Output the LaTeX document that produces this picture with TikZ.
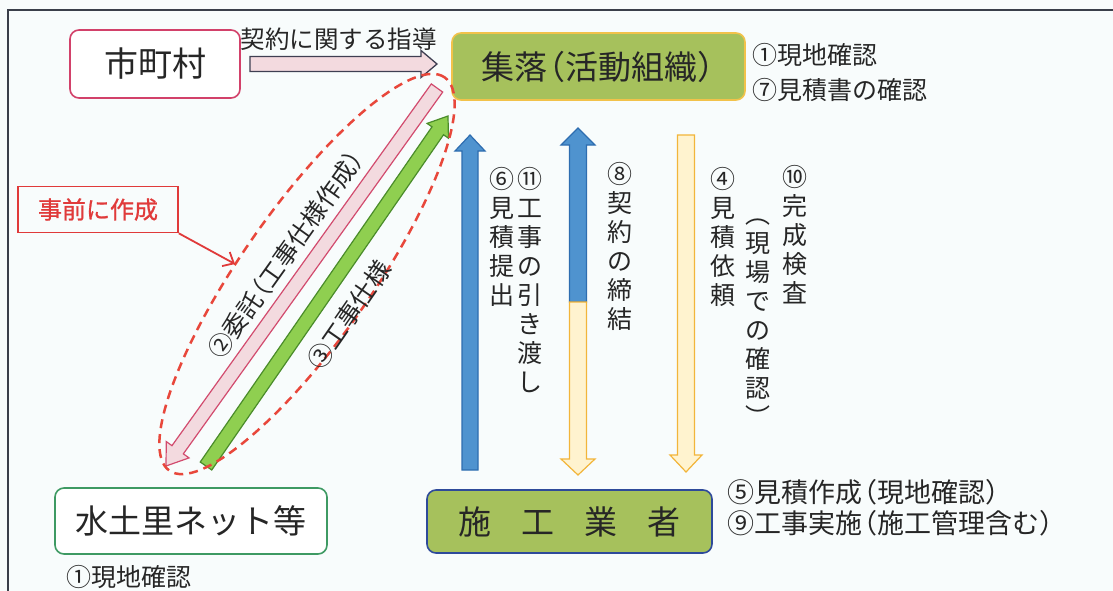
\documentclass[tikz,border=0pt]{standalone}
\usepackage{fontspec}
\setmainfont{Noto Sans CJK JP}
\newfontfamily\jpbold[FakeBold=1]{Noto Sans CJK JP}
\usetikzlibrary{calc,arrows.meta}
\definecolor{bgc}{HTML}{F8FCFC}
\definecolor{framec}{HTML}{3A3F4A}
\definecolor{txt}{HTML}{262626}
\definecolor{cityred}{HTML}{D2416A}
\definecolor{boxgreen}{HTML}{A6C15C}
\definecolor{shurakuborder}{HTML}{F2C24A}
\definecolor{sekouborder}{HTML}{2E4A9A}
\definecolor{midoriborder}{HTML}{3E9A63}
\definecolor{pinkfill}{HTML}{F3DADF}
\definecolor{pinkline}{HTML}{D24B6E}
\definecolor{hline}{HTML}{3F3F52}
\definecolor{arrgreen}{HTML}{8FCF50}
\definecolor{arrgreenline}{HTML}{4A8C2A}
\definecolor{arrblue}{HTML}{4F93CF}
\definecolor{arrblueline}{HTML}{2E6DB0}
\definecolor{arryellow}{HTML}{FFF3CF}
\definecolor{arryellowline}{HTML}{F2B53A}
\definecolor{dashred}{HTML}{E8473B}
\definecolor{notered}{HTML}{E03A3A}
\newcommand\fsz[2]{\fontsize{#1}{#2}\selectfont}
\newcommand\lpar{\kern-0.45em（}
\newcommand\rpar{）\kern-0.45em}
% block arrow: #1 style, #2 tail, #3 tip, #4 half shaft, #5 half head, #6 head length
\newcommand\blockarrow[6]{%
  \coordinate (bah) at ($(#3)!#6!(#2)$);
  \draw[#1] ($(#2)!#4!90:(#3)$) -- ($(bah)!#4!90:(#3)$) -- ($(bah)!#5!90:(#3)$) -- (#3)
    -- ($(bah)!#5!-90:(#3)$) -- ($(bah)!#4!-90:(#3)$) -- ($(#2)!#4!-90:(#3)$) -- cycle;}
\begin{document}
\begin{tikzpicture}[x=1pt,y=-1pt,
  rbox/.style={draw, rounded corners=9pt, line width=1.6pt, inner sep=0pt, text=txt},
  note/.style={anchor=west, inner sep=0pt, text=txt, font=\fsz{25}{25}},
  notebig/.style={anchor=west, inner sep=0pt, text=txt, font=\fsz{27}{27}},
  vtext/.style={anchor=north, align=center, inner sep=0pt, text=txt, font=\fsz{25}{29}},
  diag/.style={inner sep=0pt, text=txt},
  hstyle/.style={draw=hline, fill=pinkfill, line width=1.3pt},
  pstyle/.style={draw=pinkline, fill=pinkfill, line width=1.2pt},
  gstyle/.style={draw=arrgreenline, fill=arrgreen, line width=1.2pt},
  bstyle/.style={draw=arrblueline, fill=arrblue, line width=1.2pt},
  ystyle/.style={draw=arryellowline, fill=arryellow, line width=1.2pt}]
\useasboundingbox (0,0) rectangle (1113,591);
\fill[bgc] (0,0) rectangle (1113,591);
\draw[framec, line width=1.4pt] (8,591) -- (8,10) -- (1113,10);

% main boxes
\node[rbox, draw=cityred, fill=white, minimum width=170pt, minimum height=68pt] (city) at (155,64) {\fsz{34}{34}市町村};
\node[rbox, draw=shurakuborder, fill=boxgreen, minimum width=293pt, minimum height=67pt] (shuraku) at (598.5,66.5) {\fsz{33}{33}集落\lpar 活動組織\rpar};
\node[rbox, draw=midoriborder, fill=white, minimum width=272pt, minimum height=66pt] (midori) at (191,521) {\fsz{33}{33}水土里ネット等};
\node[rbox, draw=sekouborder, fill=boxgreen, minimum width=285pt, minimum height=63pt] (sekou) at (569.5,521.5) {\fsz{33}{33}施\hspace{30pt}工\hspace{30pt}業\hspace{30pt}者};
\node[draw=notered, line width=1.6pt, text=notered, minimum width=160pt, minimum height=46pt, inner sep=0pt] (jizen) at (98,209.5) {\jpbold\fsz{24}{24}事前に作成};

% annotations
\node[note] (n1) at (752,55) {①現地確認};
\node[note] (n7) at (752,90) {⑦見積書の確認};
\node[notebig] (n5) at (727,492) {⑤見積作成\lpar 現地確認\rpar};
\node[notebig] (n9) at (727,523) {⑨工事実施\lpar 施工管理含む\rpar};
\node[note] (n1b) at (66,577) {①現地確認};
\node[inner sep=0pt, text=txt, font=\fsz{24.5}{24.5}] (lbl) at (338.5,39) {契約に関する指導};

% horizontal arrow
\coordinate (hA) at (250,64);
\coordinate (hB) at (437,64);
\blockarrow{hstyle}{hA}{hB}{7.5pt}{13.5pt}{16pt}

% diagonal arrows
\coordinate (pA) at (437,88);
\coordinate (pB) at (166,466);
\blockarrow{pstyle}{pA}{pB}{7pt}{14pt}{20pt}
\coordinate (gA) at (206,466);
\coordinate (gB) at (448,116);
\blockarrow{gstyle}{gA}{gB}{7pt}{13pt}{18pt}

% dashed ellipse
\draw[dashred, line width=2.5pt, dash pattern=on 9pt off 6pt, rotate around={55:(307,274)}] (307,274) ellipse [x radius=240pt, y radius=65pt];

% note arrow
\coordinate (jzt) at (235,264);
\draw[notered, line width=1.8pt, -{Straight Barb[length=9pt,width=16pt]}] (jizen.south east) -- (jzt);

% vertical arrows
\coordinate (b1A) at (470,470);
\coordinate (b1B) at (470,135);
\blockarrow{bstyle}{b1A}{b1B}{8pt}{15pt}{16pt}
\coordinate (m8) at (578,302);
\coordinate (m8up) at (578,128);
\coordinate (m8dn) at (578,475);
\blockarrow{bstyle}{m8}{m8up}{8.5pt}{17pt}{17pt}
\blockarrow{ystyle}{m8}{m8dn}{8.5pt}{17pt}{16pt}
\coordinate (y1A) at (686,135);
\coordinate (y1B) at (686,472);
\blockarrow{ystyle}{y1A}{y1B}{8.5pt}{16pt}{17pt}

% vertical texts
\node[vtext] (v6) at (502,167.5) {\vphantom{見}⑥\\見\\積\\提\\出};
\node[vtext] (v11) at (530,167.5) {\vphantom{見}⑪\\工\\事\\の\\引\\き\\渡\\し};
\node[vtext] (v8) at (620,162.5) {\vphantom{見}⑧\\契\\約\\の\\締\\結};
\node[vtext] (v4) at (723,167.5) {\vphantom{見}④\\見\\積\\依\\頼};
\node[vtext] (v10) at (795,165.5) {\vphantom{見}⑩\\完\\成\\検\\査};
\node[vtext] (v10b) at (758,203.5) {\vphantom{見}︵\\現\\場\\で\\の\\確\\認\\︶};

% diagonal texts
\node[diag, rotate=54.5, font=\fsz{24.5}{24.5}] (t2) at (286,254) {②委託\lpar 工事仕様作成\rpar};
\node[diag, rotate=55.3, font=\fsz{25}{25}] (t3) at (349,315) {③工事仕様};
\end{tikzpicture}
\end{document}
